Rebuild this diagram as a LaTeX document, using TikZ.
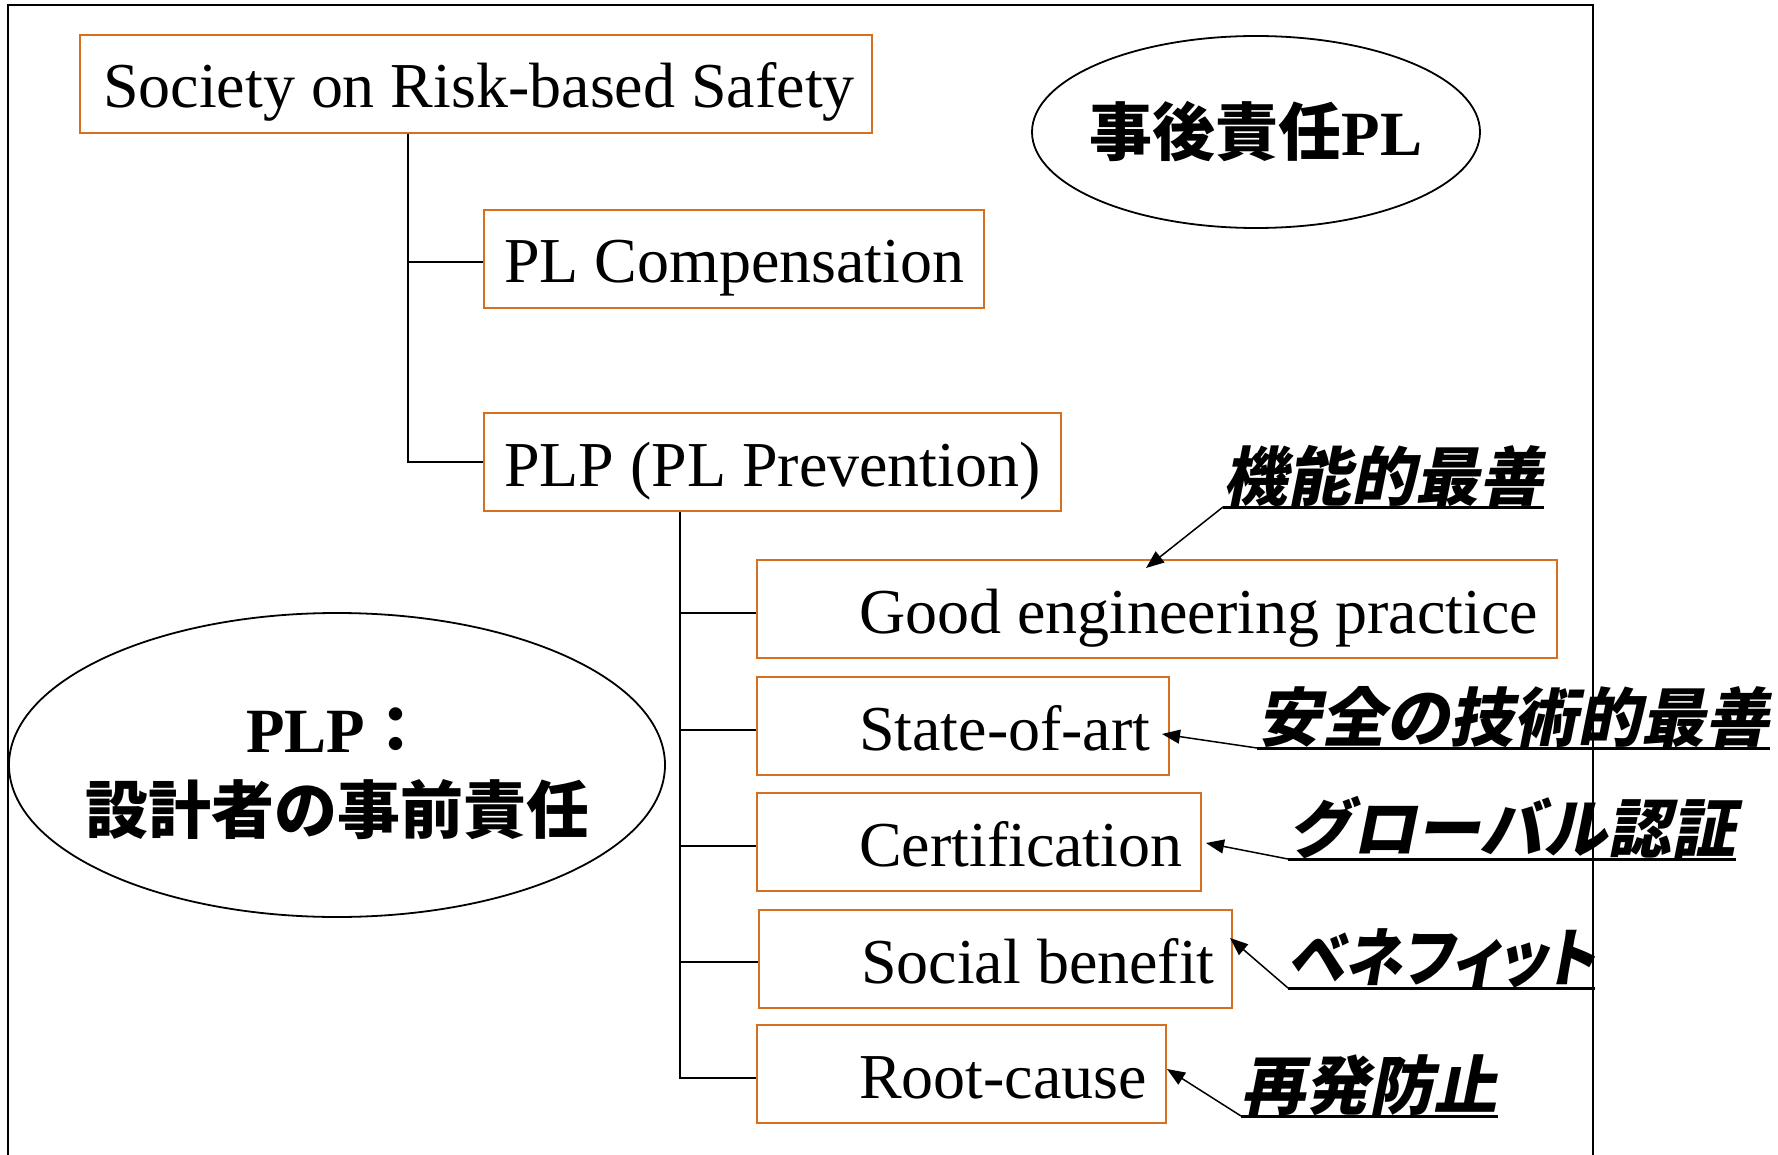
\documentclass[tikz,border=0pt]{standalone}
\usepackage{fontspec}
\setmainfont{Liberation Serif}
\newfontfamily\jp{Noto Sans CJK JP}
\newfontfamily\jpsl{Noto Sans CJK JP}[FakeSlant=0.2]
\usetikzlibrary{shapes.geometric,arrows.meta,calc}
\definecolor{boxorange}{RGB}{214,112,30}
\newcommand\boxtext[3]{\makebox[#1][l]{\hspace*{#2}#3}}
\begin{document}
\begin{tikzpicture}[x=0.5pt,y=-0.5pt,
  big/.style={font=\fontsize{32pt}{38pt}\selectfont},
  box/.style={big, draw=boxorange, line width=1pt, anchor=north west, inner sep=0pt,
    minimum height=49pt, text height=32pt, text depth=8pt},
  conn/.style={line width=0.8pt},
  oval/.style={draw, ellipse, line width=0.9pt, inner sep=0pt},
  lab/.style={inner sep=0pt, anchor=south west, text height=28pt, text depth=3pt,
    font=\fontsize{32pt}{38pt}\selectfont\jpsl\bfseries},
  uline/.style={line width=1.5pt},
  arr/.style={-{Triangle[length=9pt,width=7pt]}, line width=0.75pt}]
\useasboundingbox (0,0) rectangle (1778,1155);
% frame
\draw[line width=1pt] (8,1160) -- (8,5) -- (1593,5) -- (1593,1160);
% boxes
\node[box] (soc) at (79,34) {\boxtext{396pt}{11.5pt}{Society on Risk-based Safety}};
\node[box] (plc) at (483,209) {\boxtext{250pt}{10pt}{PL Compensation}};
\node[box] (plp) at (483,412) {\boxtext{288.5pt}{10pt}{PLP (PL Prevention)}};
\node[box] (good) at (756,559) {\boxtext{400pt}{51pt}{Good engineering practice}};
\node[box] (state) at (756,676) {\boxtext{206pt}{51pt}{State-of-art}};
\node[box] (cert) at (756,792) {\boxtext{222pt}{51pt}{Certification}};
\node[box] (social) at (758,909) {\boxtext{236.5pt}{51pt}{Social benefit}};
\node[box] (root) at (756,1024) {\boxtext{204.5pt}{51pt}{Root-cause}};
% tree connectors
\coordinate (ta) at (408,0);
\coordinate (tb) at (680,0);
\draw[conn] (soc.south -| ta) |- ([yshift=-1.5pt]plc.west);
\draw[conn] (soc.south -| ta) |- (plp.west);
\draw[conn] (plp.south -| tb) |- ([yshift=-2pt]good.west);
\draw[conn] (plp.south -| tb) |- ([yshift=-2pt]state.west);
\draw[conn] (plp.south -| tb) |- ([yshift=-2pt]cert.west);
\draw[conn] (plp.south -| tb) |- ([yshift=-1.5pt]social.west);
\draw[conn] (plp.south -| tb) |- ([yshift=-2pt]root.west);
% ellipses
\node[oval, minimum width=224pt, minimum height=96pt,
  font=\fontsize{31.5pt}{38pt}\selectfont] (e1) at (1256,132)
  {\makebox[0pt]{{\jp\bfseries 事後責任}{\bfseries PL}}};
\node[oval, minimum width=328pt, minimum height=152pt, align=center,
  text height=68pt, text depth=0pt,
  font=\fontsize{31.5pt}{40.5pt}\selectfont] (e2) at (337,765)
  {\makebox[0pt]{{\bfseries PLP}{\jp\bfseries ：}}\\\makebox[0pt]{\jp\bfseries 設計者の事前責任}};
% labels
\node[lab] (l1) at (1223,507) {機能的最善};
\node[lab] (l2) at (1257,748) {安全の技術的最善};
\node[lab] (l3) at (1288,859) {グローバル認証};
\node[lab] (l4) at (1288,988) {\scalebox{0.9}[1]{\addfontfeature{RawFeature=+palt}ベネフィット}};
\node[lab] (l5) at (1241,1116) {再発防止};
\foreach \l in {l1,l2,l3,l4,l5} \draw[uline] (\l.south west) -- (\l.south east);
% arrows
\draw[arr] (l1.south west) -- ($(good.north west)+(390,9)$);
\draw[arr] (l2.south west) -- ($(state.east)+(-8,8)$);
\draw[arr] (l3.south west) -- ($(cert.east)+(4,1)$);
\draw[arr] (l4.south west) -- ($(social.east)+(-3,-21)$);
\draw[arr] (l5.south west) -- ($(root.east)+(0,-5)$);
\end{tikzpicture}
\end{document}
